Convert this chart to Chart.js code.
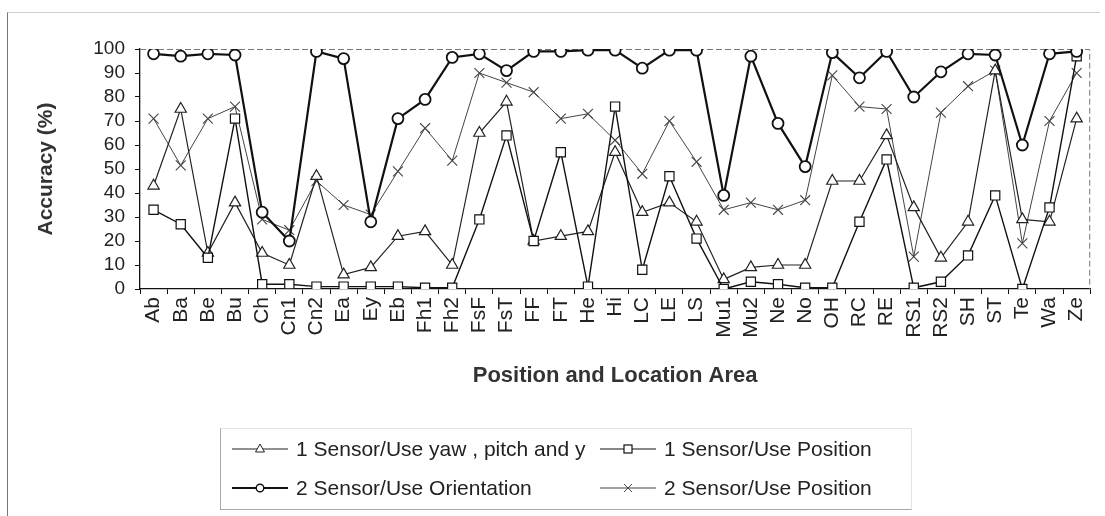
<!DOCTYPE html>
<html>
<head>
<meta charset="utf-8">
<script src="https://cdn.jsdelivr.net/npm/chart.js@4.4.1/dist/chart.umd.min.js"></script>
<style>
  html, body { margin: 0; padding: 0; background: #fff; }
  #wrap { position: relative; width: 1105px; height: 516px; overflow: hidden;
          font-family: "Liberation Sans", Arial, sans-serif; }
  #frame { position: absolute; left: 7px; top: 12px; width: 1092px; height: 510px;
           border-left: 1px solid #777; border-top: 1px solid #cfcfcf; }
  #chart { position: absolute; left: 0; top: 0; }
  #legend { position: absolute; left: 220px; top: 428px; width: 690px; height: 80px;
            border: 1px solid #a8a8a8; border-top-color: #e2e2e2; border-right-color: #e2e2e2; }
  .item { position: absolute; display: flex; align-items: center; height: 30px;
          font-size: 21px; color: #222; white-space: nowrap; }
  .item svg { margin-right: 8px; flex: none; }
</style>
</head>
<body>
<div id="wrap">
  <div id="frame"></div>
  <canvas id="chart" width="1105" height="516"></canvas>
  <div id="legend"></div>
</div>
<script>
// Body areas along the x axis
const areas = ['Ab','Ba','Be','Bu','Ch','Cn1','Cn2','Ea','Ey','Eb','Fh1','Fh2','FsF','FsT','FF','FT','He','Hi',
               'LC','LE','LS','Mu1','Mu2','Ne','No','OH','RC','RE','RS1','RS2','SH','ST','Te','Wa','Ze'];

// Accuracy (%) per area for each sensor setup
const oneSensorYawPitch = [43,75,15,36,15,10,47,6,9,22,24,10,65,78,20,22,24,57,32,36,28,4,9,10,10,45,45,64,34,13,28,91,29,28,71];
const oneSensorPosition = [33,27,13,71,2,2,1,1,1,1,0.5,0.5,29,64,20,57,1,76,8,47,21,0,3,2,0.5,0.5,28,54,0.5,3,14,39,0,34,97];
const twoSensorOrientation = [98,97,98,97.5,32,20,99,96,28,71,79,96.5,98,91,99,99,99.5,99.5,92,99.5,99.5,39,97,69,51,98.5,88,99,80,90.5,98,97.5,60,98,99];
const twoSensorPosition = [71,51.5,71,76,29,24.5,45,35,31,49,67,53.5,90,86,82,71,73,62,48,70,53,33,36,33,37,89,76,75,13.5,73.5,84.5,91,19,70,90];

// Y axis tick values
const yTicks = [0,10,20,30,40,50,60,70,80,90,100];

const FONT = '"Liberation Sans", Arial, sans-serif';

const seriesStyles = [
  { label: '1 Sensor/Use yaw , pitch and y', data: oneSensorYawPitch, marker: 'triangle',
    color: '#222', width: 1.2, radius: 6.5, order: 2 },
  { label: '1 Sensor/Use Position', data: oneSensorPosition, marker: 'rect',
    color: '#111', width: 1.4, radius: 6.5, order: 1 },
  { label: '2 Sensor/Use Orientation', data: twoSensorOrientation, marker: 'circle',
    color: '#111', width: 2.2, radius: 5.5, order: 0 },
  { label: '2 Sensor/Use Position', data: twoSensorPosition, marker: 'crossRot',
    color: '#444', width: 1, radius: 7, order: 3 }
];

// Dashed top and right edges of the plot area
const plotFrame = {
  id: 'plotFrame',
  beforeDatasetsDraw(chart) {
    const { ctx, chartArea: a } = chart;
    ctx.save();
    ctx.strokeStyle = '#777';
    ctx.lineWidth = 1;
    ctx.setLineDash([6, 3]);
    ctx.beginPath();
    ctx.moveTo(a.left, a.top + 0.5);
    ctx.lineTo(a.right - 0.5, a.top + 0.5);
    ctx.lineTo(a.right - 0.5, a.bottom);
    ctx.stroke();
    ctx.restore();
  }
};

new Chart(document.getElementById('chart'), {
  type: 'line',
  data: {
    labels: areas,
    datasets: seriesStyles.map(s => ({
      label: s.label,
      data: s.data,
      borderColor: s.color,
      borderWidth: s.width,
      tension: 0,
      fill: false,
      order: s.order,
      pointStyle: s.marker,
      pointRadius: s.radius,
      pointHoverRadius: s.radius,
      pointBackgroundColor: s.marker === 'crossRot' ? s.color : '#fff',
      pointBorderColor: s.color,
      pointBorderWidth: s.marker === 'circle' ? 1.8 : (s.marker === 'crossRot' ? 1.1 : 1.2)
    }))
  },
  options: {
    responsive: false,
    animation: false,
    events: [],
    layout: { padding: { left: 10, right: 10, top: 49, bottom: 116 } },
    plugins: { legend: { display: false }, tooltip: { enabled: false } },
    scales: {
      x: {
        offset: true,
        grid: { display: true, drawOnChartArea: false, drawTicks: true, tickLength: 5, color: '#111', offset: true },
        border: { display: true, color: '#111', width: 1.3 },
        ticks: { autoSkip: false, maxRotation: 90, minRotation: 90, padding: 3,
                 color: '#222', font: { family: FONT, size: 21 } },
        title: { display: true, text: 'Position and Location Area', color: '#333',
                 font: { family: FONT, size: 22, weight: 'bold' }, padding: { top: 0, bottom: 11 } },
        afterFit(scale) { scale.height = 111; }
      },
      y: {
        min: 0, max: 100,
        afterBuildTicks(scale) { scale.ticks = yTicks.map(v => ({ value: v })); },
        grid: { display: true, drawOnChartArea: false, drawTicks: true, tickLength: 5, color: '#111' },
        border: { display: true, color: '#111', width: 1.3 },
        ticks: { autoSkip: false, padding: 10, color: '#222', font: { family: FONT, size: 19, lineHeight: 1 } },
        title: { display: true, text: 'Accuracy (%)', color: '#333',
                 font: { family: FONT, size: 21, weight: 'bold' }, padding: { top: 24, bottom: 0 } },
        afterFit(scale) { scale.width = 130; }
      }
    }
  },
  plugins: [plotFrame]
});

// Legend with line-and-marker samples
function sample(style) {
  const c = style.color, w = 56, h = 30, cx = 28, cy = 15;
  let mark = '';
  if (style.marker === 'triangle') {
    mark = `<polygon points="${cx},${cy-5} ${cx+4.5},${cy+3} ${cx-4.5},${cy+3}" fill="#fff" stroke="${c}" stroke-width="1"/>`;
  } else if (style.marker === 'rect') {
    mark = `<rect x="${cx-4}" y="${cy-4}" width="8" height="8" fill="#fff" stroke="${c}" stroke-width="1.2"/>`;
  } else if (style.marker === 'circle') {
    mark = `<circle cx="${cx}" cy="${cy}" r="3.8" fill="#fff" stroke="${c}" stroke-width="1.4"/>`;
  } else {
    mark = `<path d="M${cx-4},${cy-4} L${cx+4},${cy+4} M${cx-4},${cy+4} L${cx+4},${cy-4}" stroke="${c}" stroke-width="1"/>`;
  }
  const lw = style.marker === 'circle' ? 1.8 : 1.2;
  return `<svg width="${w}" height="${h}"><line x1="0" y1="${cy}" x2="${w}" y2="${cy}" stroke="${c}" stroke-width="${lw}"/>${mark}</svg>`;
}
const legendSlots = [ { left: 11, top: 5 }, { left: 379, top: 5 }, { left: 11, top: 44 }, { left: 379, top: 44 } ];
const legendEl = document.getElementById('legend');
seriesStyles.forEach((s, i) => {
  const d = document.createElement('div');
  d.className = 'item';
  d.style.left = legendSlots[i].left + 'px';
  d.style.top = legendSlots[i].top + 'px';
  d.innerHTML = sample(s) + '<span>' + s.label + '</span>';
  legendEl.appendChild(d);
});
</script>
</body>
</html>
